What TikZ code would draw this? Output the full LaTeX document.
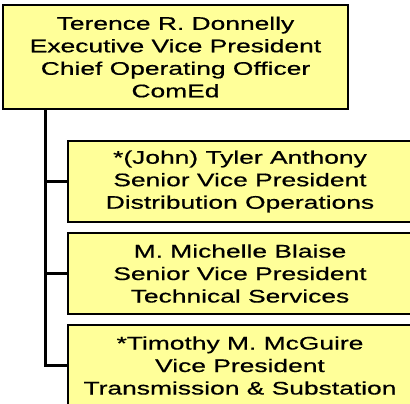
\documentclass[tikz,border=0pt]{standalone}
\usepackage{fontspec}
\setmainfont[FakeStretch=1.45,FakeBold=0.6]{Liberation Sans}
\usetikzlibrary{positioning,shadows}
\definecolor{boxyellow}{HTML}{FFFF99}
\begin{document}
\begin{tikzpicture}[x=1pt,y=-1pt,
  box/.style={draw=black,line width=1.6pt,fill=boxyellow,align=center,inner sep=0pt,
    font=\fontsize{18.2}{22.5}\selectfont,
    drop shadow={shadow xshift=1.2pt,shadow yshift=-1.2pt,fill=gray!70,opacity=1}},
  link/.style={line width=3pt}]
\useasboundingbox (0,0) rectangle (410,404);
\clip (0,0) rectangle (410,404);
\node[box,minimum width=345pt,minimum height=104pt] (evp) at (175.5,57)
  {Terence R. Donnelly\\Executive Vice President\\Chief Operating Officer\\ComEd};
\node[box,minimum width=344pt,minimum height=81pt] (dist) at (240,181.5)
  {*(John) Tyler Anthony\\Senior Vice President\\Distribution Operations};
\node[box,minimum width=344pt,minimum height=81pt] (tech) at (240,273.5)
  {M. Michelle Blaise\\Senior Vice President\\Technical Services};
\node[box,minimum width=344pt,minimum height=81pt] (trans) at (240,365.5)
  {*Timothy M. McGuire\\Vice President\\Transmission \& Substation};
\coordinate (corner) at (45.5,365.5);
% reporting lines
\draw[link] (evp.south -| corner) -- (corner) -- (trans.west);
\draw[link] (dist.west) -- (dist.west -| corner);
\draw[link] (tech.west) -- (tech.west -| corner);
\end{tikzpicture}
\end{document}
